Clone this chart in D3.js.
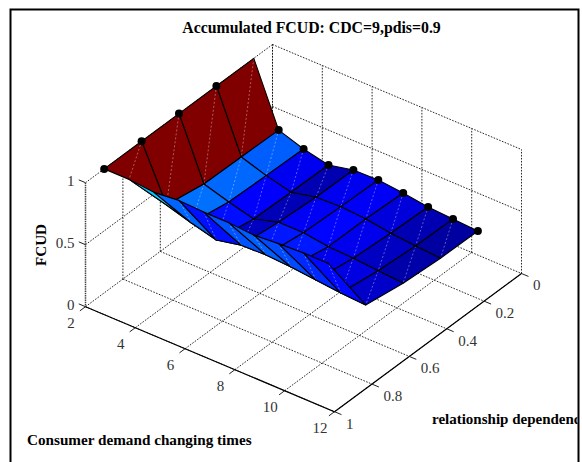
<!DOCTYPE html>
<html>
<head>
<meta charset="utf-8">
<script src="https://cdn.jsdelivr.net/npm/d3@7"></script>
<style>
  html, body { margin: 0; padding: 0; background: #fff; overflow: hidden; }
  svg { display: block; }
  text { font-family: "Liberation Serif", "Times New Roman", serif; }
</style>
</head>
<body>
<svg></svg>
<script>
let width = 582, height = 462;

// demand changing times / relationship dependence sampled on the surface
const xValues = [2, 3, 4, 5, 6, 7, 8, 9, 10, 11];
const yValues = [0.1, 0.3, 0.5, 0.7, 0.9];

// FCUD, one list per relationship dependence value
const fcudY01 = [1, 0.506, 0.438, 0.394, 0.438, 0.442, 0.422, 0.394, 0.381, 0.369];
const fcudY03 = [1, 0.512, 0.446, 0.397, 0.441, 0.45, 0.435, 0.405, 0.387, 0.373];
const fcudY05 = [1, 0.517, 0.456, 0.404, 0.462, 0.463, 0.435, 0.426, 0.41, 0.394];
const fcudY07 = [1, 0.57, 0.51, 0.457, 0.5, 0.506, 0.494, 0.473, 0.453, 0.441];
const fcudY09 = [1, 1, 0.98, 1, 0.99, 0.99, 0.975, 0.99, 1, 1];
const fcud = [fcudY01, fcudY03, fcudY05, fcudY07, fcudY09];

// black markers sit on the x=2 column and the y=0.1 row
const markerYs = [0.9, 0.7, 0.5, 0.3];
const markerXs = [3, 4, 5, 6, 7, 8, 9, 10, 11];

const xTicks = [2, 4, 6, 8, 10, 12];
const yTicks = [0, 0.2, 0.4, 0.6, 0.8, 1];
const zTicks = [0, 0.5, 1];

let svg = d3.select("svg")
    .attr("width", width)
    .attr("height", height)
    .attr("viewBox", "0 0 " + width + " " + height);

// oblique view of the box: each data axis gets its own pair of screen scales
const xToPx = d3.scaleLinear().domain([2, 12]).range([0, 249]);
const xToPy = d3.scaleLinear().domain([2, 12]).range([0, 105]);
const yToPx = d3.scaleLinear().domain([1, 0]).range([0, 187]);
const yToPy = d3.scaleLinear().domain([1, 0]).range([0, -138.2]);
const zToPy = d3.scaleLinear().domain([0, 1]).range([0, -124]);

function project(x, y, z) {
    return [85.5 + xToPx(x) + yToPx(y), 306.7 + xToPy(x) + yToPy(y) + zToPy(z)];
}

// jet colormap over the range of the surface
const zMin = d3.min(fcud, row => d3.min(row));
const jet = d3.scaleLinear()
    .domain([0, 0.125, 0.375, 0.625, 0.875, 1])
    .range(["#00008f", "#0000ff", "#00ffff", "#ffff00", "#ff0000", "#800000"]);
const colorScale = v => jet((v - zMin) / (1 - zMin));

const line = d3.line();

function dotted(a, b) {
    svg.append("path")
        .attr("d", line([a, b]))
        .attr("fill", "none")
        .attr("stroke", "#111")
        .attr("stroke-width", 0.9)
        .attr("stroke-dasharray", "1.6,1.4");
}

// grid on floor and the two back walls
xTicks.forEach(t => {
    dotted(project(t, 1, 0), project(t, 0, 0));
    dotted(project(t, 0, 0), project(t, 0, 1));
});
yTicks.forEach(t => {
    dotted(project(2, t, 0), project(12, t, 0));
    if (t < 1) dotted(project(2, t, 0), project(2, t, 1));
});
zTicks.slice(1).forEach(t => {
    dotted(project(2, 1, t), project(2, 0, t));
    dotted(project(2, 0, t), project(12, 0, t));
});

// z axis is the doubled up dotted edge
svg.append("path")
    .attr("d", line([project(2, 1, 0), project(2, 1, 1)]))
    .attr("stroke", "#444")
    .attr("stroke-width", 1.5)
    .attr("stroke-dasharray", "1.2,0.6");

// x and y axis
svg.append("path")
    .attr("d", line([project(2, 1, 0), project(12, 1, 0), project(12, 0, 0)]))
    .attr("fill", "none")
    .attr("stroke", "#000")
    .attr("stroke-width", 1.2);

let tickStyle = sel => sel.attr("stroke", "#222").attr("stroke-width", 1).attr("fill", "none");
xTicks.forEach(t => svg.append("path").attr("d", line([project(t, 1, 0), project(t, 1.03, 0)])).call(tickStyle));
yTicks.forEach(t => svg.append("path").attr("d", line([project(12, t, 0), project(12.28, t, 0)])).call(tickStyle));
zTicks.forEach(t => svg.append("path").attr("d", line([project(2, 1, t), project(1.73, 1, t)])).call(tickStyle));

// surface cells, back to front; cell colour comes from its first corner
let surface = svg.append("g");
for (let j = 0; j < yValues.length - 1; j++) {
    for (let i = 0; i < xValues.length - 1; i++) {
        let a = project(xValues[i], yValues[j], fcud[j][i]);
        let b = project(xValues[i + 1], yValues[j], fcud[j][i + 1]);
        let c = project(xValues[i + 1], yValues[j + 1], fcud[j + 1][i + 1]);
        let d = project(xValues[i], yValues[j + 1], fcud[j + 1][i]);
        surface.append("path")
            .attr("d", line([a, b, c, d]) + "Z")
            .attr("fill", colorScale(fcud[j][i]))
            .attr("stroke", "none");
        // faint seam along the cell diagonal
        surface.append("path")
            .attr("d", line([a, c]))
            .attr("stroke", "rgba(255,255,255,0.45)")
            .attr("stroke-width", 0.8)
            .attr("stroke-dasharray", "2,2");
        surface.append("path")
            .attr("d", line([a, b, c, d]) + "Z")
            .attr("fill", "none")
            .attr("stroke", "#000")
            .attr("stroke-width", 1.1)
            .attr("stroke-linejoin", "round");
    }
}

// markers
let markers = markerYs.map(y => [2, y]).concat(markerXs.map(x => [x, 0.1]));
svg.append("g").selectAll("circle")
    .data(markers)
    .enter()
    .append("circle")
    .attr("cx", d => project(d[0], d[1], fcud[yValues.indexOf(d[1])][xValues.indexOf(d[0])])[0])
    .attr("cy", d => project(d[0], d[1], fcud[yValues.indexOf(d[1])][xValues.indexOf(d[0])])[1])
    .attr("r", 4)
    .attr("fill", "#000");

// tick labels
const labelColor = "#333";
svg.selectAll(".xlabel").data(xTicks).enter().append("text")
    .attr("x", d => project(d, 1, 0)[0] - 14.5)
    .attr("y", d => project(d, 1, 0)[1] + 16)
    .attr("dy", "0.33em")
    .attr("text-anchor", "middle")
    .attr("font-size", "15px")
    .attr("fill", labelColor)
    .text(d => d);
svg.selectAll(".ylabel").data(yTicks).enter().append("text")
    .attr("x", d => project(12, d, 0)[0] + 11.5)
    .attr("y", d => project(12, d, 0)[1] + 12)
    .attr("dy", "0.33em")
    .attr("text-anchor", "start")
    .attr("font-size", "15px")
    .attr("fill", labelColor)
    .text(d => d);
svg.selectAll(".zlabel").data(zTicks).enter().append("text")
    .attr("x", d => project(2, 1, d)[0] - 11)
    .attr("y", d => project(2, 1, d)[1] - 2)
    .attr("dy", "0.33em")
    .attr("text-anchor", "end")
    .attr("font-size", "15px")
    .attr("fill", labelColor)
    .text(d => d);

// figure frame runs off the bottom of the picture
svg.append("path")
    .attr("d", "M10.5,462V9.5H578.5V462")
    .attr("fill", "none")
    .attr("stroke", "#000")
    .attr("stroke-width", 2);

svg.append("clipPath").attr("id", "frameClip")
    .append("rect").attr("x", 0).attr("y", 0).attr("width", 577.5).attr("height", height);

let boldText = (txt, x, y, size) => svg.append("text")
    .attr("x", x).attr("y", y)
    .attr("font-size", size + "px")
    .attr("font-weight", "bold")
    .attr("fill", "#000")
    .text(txt);

boldText("Accumulated FCUD: CDC=9,pdis=0.9", 311.5, 33, 15.8).attr("text-anchor", "middle");
boldText("Consumer demand changing times", 27, 445, 15.2);
boldText("relationship dependence", 432, 424, 15).attr("clip-path", "url(#frameClip)");
boldText("FCUD", 0, 0, 15.2)
    .attr("text-anchor", "middle")
    .attr("transform", "translate(46,245) rotate(-90)");
</script>
</body>
</html>
